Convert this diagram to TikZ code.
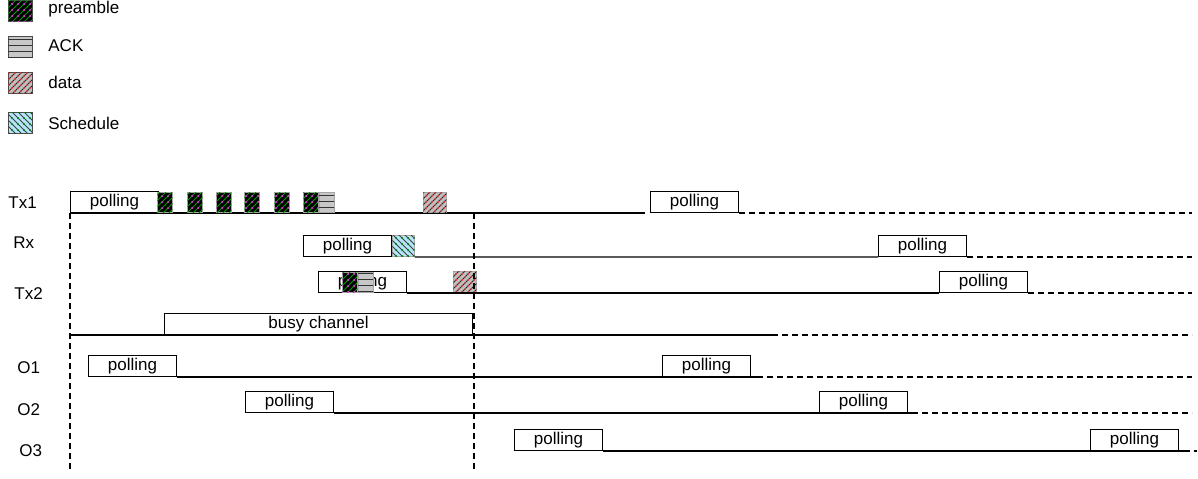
\documentclass[tikz,border=0pt]{standalone}
\usepackage{fontspec}
\setmainfont{Liberation Sans}
\usetikzlibrary{patterns,positioning}
\tikzset{
  lbl/.style={
    anchor=west,
    inner sep=0pt,
    font=\fontsize{8.5}{10}\selectfont
  },
  pollbox/.style={
    draw,
    fill=white,
    line width=0.5pt,
    anchor=south west,
    inner sep=0pt,
    minimum width=44pt,
    minimum height=10.5pt,
    font=\fontsize{8.5}{10}\selectfont
  },
  busybox/.style={
    pollbox,
    minimum width=154pt
  },
  slot/.style={
    draw=black!35,
    line width=0.4pt,
    inner sep=0pt,
    minimum width=7.5pt,
    minimum height=10pt
  },
  preamblebox/.style={
    slot,
    fill=black,
    postaction={pattern=north east lines, pattern color=green!60!black},
    postaction={pattern=dots, pattern color=magenta!80}
  },
  ackbox/.style={
    slot,
    fill=black!22,
    postaction={pattern=horizontal lines, pattern color=black!80}
  },
  databox/.style={
    slot,
    minimum width=11.5pt,
    fill=black!25,
    postaction={pattern=north east lines, pattern color=black!85},
    postaction={pattern=crosshatch dots, pattern color=red!75}
  },
  schedbox/.style={
    slot,
    minimum width=11pt,
    minimum height=10.5pt,
    fill=cyan!30,
    postaction={pattern=north west lines, pattern color=black!75},
    postaction={pattern=dots, pattern color=green!50!black}
  },
  legicon/.style={
    draw=black!70,
    minimum width=12pt,
    minimum height=10.5pt,
    anchor=north west
  },
  timeline/.style={line width=0.6pt},
  future/.style={line width=0.6pt, dash pattern=on 3pt off 2pt},
  marker/.style={line width=0.6pt, dash pattern=on 3pt off 2pt}
}

\begin{document}
\begin{tikzpicture}[x=0.5pt,y=-0.5pt]
\useasboundingbox (0,0) rectangle (1198,478);

% legend
\node[preamblebox, legicon] (legpre) at (8,0) {};
\node[ackbox, legicon] (legack) at (8,36) {};
\node[databox, legicon] (legdata) at (8,72) {};
\node[schedbox, legicon] (legsched) at (8,112) {};
\node[lbl] (txtpre) at (48,9) {preamble};
\node[lbl] (txtack) at (48,46) {ACK};
\node[lbl] (txtdata) at (48,82) {data};
\node[lbl] (txtsched) at (48,123) {Schedule};

% row labels
\node[lbl] (ltx1) at (8,203) {Tx1};
\node[lbl] (lrx) at (13,243) {Rx};
\node[lbl] (ltx2) at (14,294) {Tx2};
\node[lbl] (lo1) at (17,368) {O1};
\node[lbl] (lo2) at (17,410) {O2};
\node[lbl] (lo3) at (19,451) {O3};

% Tx1
\node[pollbox] (tx1poll) at (70,213) {polling};
\node[pollbox] (tx1poll2) at (650,213) {polling};
\coordinate (tx1end) at (645,213);
\coordinate (tx1fin) at (1192,213);
\draw[timeline] (tx1poll.south west) -- (tx1end);
\draw[future] (tx1poll2.south east) -- (tx1fin);
\foreach \x [count=\i] in {157,187,216,244,274,303}
  \node[preamblebox, anchor=south west] (tx1pre\i) at (\x,213) {};
\node[ackbox, right=0pt of tx1pre6] (tx1ack) {};
\node[databox, anchor=south west] (tx1data) at (423,213) {};

% Rx
\node[pollbox] (rxpoll) at (303,257) {polling};
\node[schedbox, right=0pt of rxpoll] (rxsched) {};
\node[pollbox] (rxpoll2) at (878,257) {polling};
\coordinate (rxfin) at (1192,257);
\draw[timeline] (rxsched.south east) -- (rxpoll2.south west);
\draw[future] (rxpoll2.south east) -- (rxfin);

% Tx2
\node[pollbox] (tx2poll) at (318,293) {polling};
\node[preamblebox, anchor=south west] (tx2pre) at (342,293) {};
\node[ackbox, right=0pt of tx2pre] (tx2ack) {};
\node[databox, anchor=south west, minimum height=10.5pt] (tx2data) at (453,293) {};
\node[pollbox] (tx2poll2) at (939,293) {polling};
\coordinate (tx2fin) at (1192,293);
\draw[timeline] (tx2poll.south east) -- (tx2poll2.south west);
\draw[future] (tx2poll2.south east) -- (tx2fin);

% busy channel
\coordinate (busystart) at (70,335);
\coordinate (busymid) at (772,335);
\coordinate (busyfin) at (1192,335);
\draw[timeline] (busystart) -- (busymid);
\draw[future] (busymid) -- (busyfin);
\node[busybox] (busy) at (164,335) {busy channel};

% O1
\node[pollbox] (o1poll) at (88,377) {polling};
\node[pollbox] (o1poll2) at (662,377) {polling};
\coordinate (o1mid) at (757,377);
\coordinate (o1fin) at (1192,377);
\draw[timeline] (o1poll.south east) -- (o1mid);
\draw[future] (o1mid) -- (o1fin);

% O2
\node[pollbox] (o2poll) at (245,413) {polling};
\node[pollbox] (o2poll2) at (819,413) {polling};
\coordinate (o2mid) at (912,413);
\coordinate (o2fin) at (1192,413);
\draw[timeline] (o2poll.south east) -- (o2mid);
\draw[future] (o2mid) -- (o2fin);

% O3
\node[pollbox] (o3poll) at (514,451) {polling};
\node[pollbox] (o3poll2) at (1090,451) {polling};
\coordinate (o3mid) at (1184,451);
\coordinate (o3fin) at (1197,451);
\draw[timeline] (o3poll.south east) -- (o3mid);
\draw[future] (o3mid) -- (o3fin);

% time markers
\coordinate (m1top) at (70,213);
\coordinate (m1bot) at (70,472);
\coordinate (m2top) at (474,213);
\coordinate (m2bot) at (474,472);
\draw[marker] (m1top) -- (m1bot);
\draw[marker] (m2top) -- (m2bot);
\end{tikzpicture}
\end{document}
